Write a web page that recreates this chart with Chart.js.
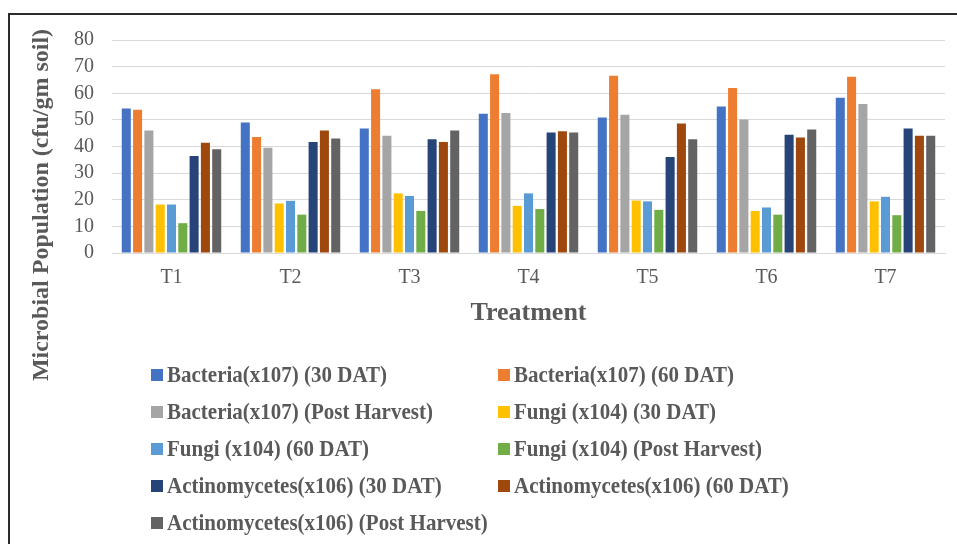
<!DOCTYPE html>
<html>
<head>
<meta charset="utf-8">
<script src="https://cdn.jsdelivr.net/npm/chart.js@4/dist/chart.umd.min.js"></script>
<style>
  html, body { margin: 0; padding: 0; background: #ffffff; }
  #wrap { position: relative; width: 957px; height: 544px; }
  canvas { display: block; }
</style>
</head>
<body>
<div id="wrap"><canvas id="chart" width="957" height="544"></canvas></div>
<script>
// Treatments on the x axis
const categories = ['T1', 'T2', 'T3', 'T4', 'T5', 'T6', 'T7'];

// Microbial counts per treatment (cfu/gm soil)
const bacteria30 = [54.3, 49.0, 46.8, 52.3, 50.9, 55.0, 58.3];
const bacteria60 = [53.8, 43.6, 61.5, 67.1, 66.6, 62.0, 66.2];
const bacteriaPH = [46.0, 39.5, 44.0, 52.6, 51.9, 50.1, 56.0];
const fungi30 = [18.2, 18.6, 22.4, 17.7, 19.7, 15.8, 19.4];
const fungi60 = [18.2, 19.6, 21.4, 22.4, 19.4, 17.1, 21.1];
const fungiPH = [11.2, 14.4, 15.8, 16.5, 16.2, 14.4, 14.2];
const actino30 = [36.4, 41.7, 42.7, 45.3, 36.1, 44.4, 46.8];
const actino60 = [41.4, 46.0, 41.7, 45.7, 48.6, 43.4, 44.0];
const actinoPH = [39.0, 43.0, 46.0, 45.3, 42.7, 46.4, 44.0];

const seriesLabels = [
  'Bacteria(x107) (30 DAT)',
  'Bacteria(x107) (60 DAT)',
  'Bacteria(x107) (Post Harvest)',
  'Fungi (x104) (30 DAT)',
  'Fungi (x104) (60 DAT)',
  'Fungi (x104) (Post Harvest)',
  'Actinomycetes(x106) (30 DAT)',
  'Actinomycetes(x106) (60 DAT)',
  'Actinomycetes(x106) (Post Harvest)'
];
const seriesData = [bacteria30, bacteria60, bacteriaPH, fungi30, fungi60, fungiPH, actino30, actino60, actinoPH];
const seriesColors = ['#4472C4', '#ED7D31', '#A5A5A5', '#FFC000', '#5B9BD5', '#70AD47', '#264478', '#9E480E', '#636363'];

const yTicks = { min: 0, max: 80, step: 10 };
const yTitle = 'Microbial Population (cfu/gm soil)';
const xTitle = 'Treatment';

const SERIF = '"Liberation Serif", "Times New Roman", serif';
const TEXT = '#595959';

// Frame, rotated y title and two-column legend
const decorations = {
  id: 'decorations',
  afterDraw(chart) {
    const ctx = chart.ctx;
    ctx.save();
    // outer frame (top and left edges)
    ctx.strokeStyle = '#2b2b2b';
    ctx.lineWidth = 2;
    ctx.beginPath();
    ctx.moveTo(9, 544);
    ctx.lineTo(9, 14);
    ctx.lineTo(957, 14);
    ctx.stroke();

    // y axis title
    ctx.fillStyle = TEXT;
    ctx.font = 'bold 24px ' + SERIF;
    ctx.textAlign = 'center';
    ctx.textBaseline = 'middle';
    ctx.translate(42, 205);
    ctx.rotate(-Math.PI / 2);
    ctx.fillText(yTitle, 0, 0);
    ctx.restore();

    // legend
    ctx.save();
    ctx.font = 'bold 21px ' + SERIF;
    ctx.textAlign = 'left';
    ctx.textBaseline = 'middle';
    const colBox = [151, 498];
    const rowY0 = 375, rowStep = 37, box = 12;
    chart.data.datasets.forEach((ds, i) => {
      const col = i % 2, row = Math.floor(i / 2);
      const y = rowY0 + row * rowStep;
      const bx = colBox[col];
      ctx.fillStyle = ds.backgroundColor;
      ctx.fillRect(bx, y - box / 2, box, box);
      ctx.fillStyle = TEXT;
      ctx.save();
      ctx.translate(bx + box + 4, y + 1);
      ctx.scale(1, 1.12);
      ctx.fillText(ds.label, 0, 0);
      ctx.restore();
    });
    ctx.restore();
  }
};

new Chart(document.getElementById('chart'), {
  type: 'bar',
  data: {
    labels: categories,
    datasets: seriesData.map((d, i) => ({
      label: seriesLabels[i],
      data: d,
      backgroundColor: seriesColors[i],
      borderWidth: 0,
      categoryPercentage: 0.855,
      barPercentage: 0.8
    }))
  },
  options: {
    responsive: false,
    animation: false,
    devicePixelRatio: 1,
    layout: { padding: { left: 60, right: 12, top: 40, bottom: 215 } },
    plugins: {
      legend: { display: false },
      tooltip: { enabled: false }
    },
    scales: {
      x: {
        grid: { display: false, drawTicks: false },
        border: { display: true, color: '#d9d9d9', width: 1 },
        ticks: { color: TEXT, font: { family: SERIF, size: 20 }, padding: 13 },
        title: { display: true, text: xTitle, color: TEXT, font: { family: SERIF, size: 26, weight: 'bold' }, padding: 0 },
        afterFit(scale) { scale.height = 76; }
      },
      y: {
        min: yTicks.min,
        max: yTicks.max,
        grid: { color: '#d9d9d9', drawTicks: false },
        border: { display: false },
        ticks: { stepSize: yTicks.step, autoSkip: false, color: TEXT, font: { family: SERIF, size: 20 }, padding: 18 },
        afterFit(scale) { scale.width = 52; }
      }
    }
  },
  plugins: [decorations]
});
</script>
</body>
</html>
